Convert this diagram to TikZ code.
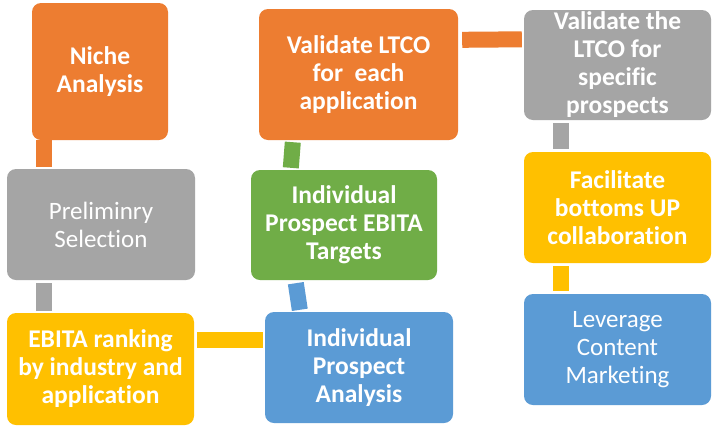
\documentclass[tikz,border=0pt]{standalone}
\usepackage{fontspec}
\setmainfont[Ligatures={NoCommon}]{Carlito}
\usetikzlibrary{calc}
\definecolor{corange}{HTML}{ED7D31}
\definecolor{cgray}{HTML}{A5A5A5}
\definecolor{cyellow}{HTML}{FFC000}
\definecolor{cgreen}{HTML}{70AD47}
\definecolor{cblue}{HTML}{5B9BD5}
\begin{document}
\begin{tikzpicture}[x=1pt,y=-1pt,
  box/.style={rounded corners=9pt, inner sep=0pt, align=center, text=white,
    font=\fontsize{25}{28}\selectfont},
  bbox/.style={box, font=\fontsize{25.5}{28}\selectfont\bfseries},
  conn/.style={line width=16pt}]
\fill[white] (0,0) rectangle (720,437);
\useasboundingbox (0,0) rectangle (720,437);
% column 1
\node[bbox, fill=corange, minimum width=136pt, minimum height=137pt] (niche) at (100,71.5) {Niche\\Analysis};
\node[box, fill=cgray, minimum width=188pt, minimum height=111pt] (prelim) at (101,224.5) {Preliminry\\Selection};
\node[bbox, fill=cyellow, minimum width=187pt, minimum height=112pt] (rank) at (100.5,369) {EBITA ranking\\by industry and\\application};
% column 2
\node[bbox, fill=corange, minimum width=199pt, minimum height=131pt] (ltco) at (358.5,74.5) {Validate LTCO\\for\ \ each\\application};
\node[bbox, fill=cgreen, minimum width=186pt, minimum height=110pt] (targets) at (344,225) {Individual\\Prospect EBITA\\Targets};
\node[bbox, fill=cblue, minimum width=188pt, minimum height=111pt] (analysis) at (359,367.5) {Individual\\Prospect\\Analysis};
% column 3
\node[bbox, fill=cgray, minimum width=187pt, minimum height=110pt] (valid) at (617.5,65) {Validate the\\LTCO for\\specific\\prospects};
\node[bbox, fill=cyellow, minimum width=187pt, minimum height=111pt] (facil) at (617.5,207.5) {Facilitate\\bottoms UP\\collaboration};
\node[box, fill=cblue, minimum width=187pt, minimum height=111pt] (lever) at (617.5,349.5) {Leverage\\Content\\Marketing};
% connectors
\draw[conn, corange] ($(niche.south west)+(12,0)$) -- ($(niche.south west |- prelim.north)+(12,-2)$);
\draw[conn, cgray] ($(prelim.south west)+(37,3)$) -- ($(prelim.south west |- rank.north)+(37,-2)$);
\draw[conn, cyellow] ($(rank.north east)+(3,27)$) -- ($(analysis.north west)+(-2,28)$);
\draw[conn, cgreen] ($(ltco.south west)+(34,2)$) -- ($(targets.north west)+(40,-2)$);
\draw[conn, cblue] ($(targets.south west)+(45,3)$) -- ($(analysis.north west)+(35,-2)$);
\draw[conn, corange] ($(ltco.north east)+(4,31)$) -- ($(valid.north west)+(-2,29.5)$);
\draw[conn, cgray] ($(valid.south west)+(37.5,3)$) -- ($(facil.north west)+(37.5,-3)$);
\draw[conn, cyellow] ($(facil.south west)+(37.5,3)$) -- ($(lever.north west)+(37.5,-3)$);
\end{tikzpicture}
\end{document}
